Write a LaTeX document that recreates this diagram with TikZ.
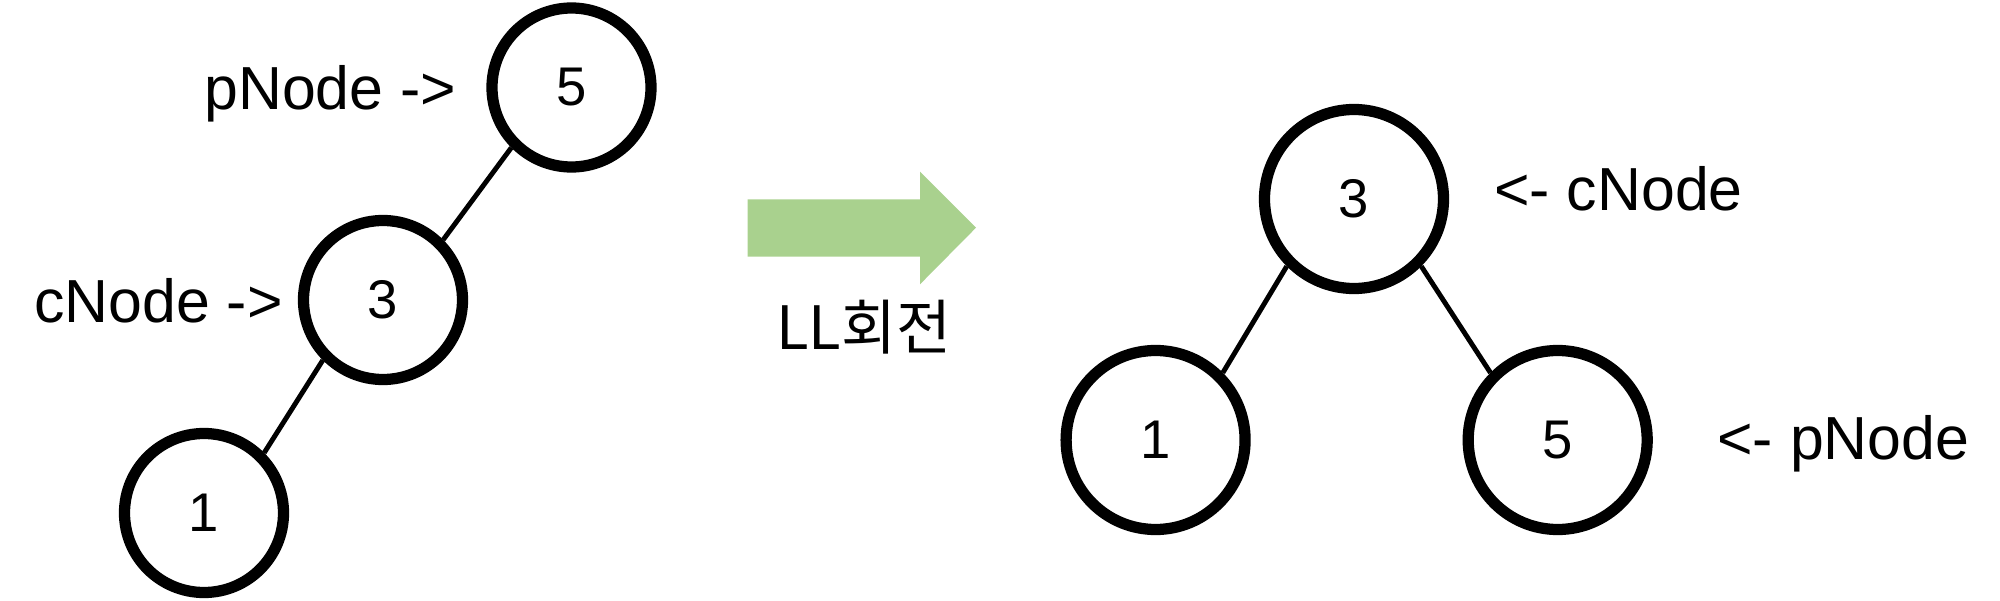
\documentclass[tikz,border=0pt]{standalone}
\usepackage{fontspec}
\setmainfont{Liberation Sans}
\newfontfamily\krfont{Noto Sans CJK KR}
\usepackage{tikz, xcolor}
\usetikzlibrary{shapes,arrows}
\definecolor{turngreen}{HTML}{A9D18E}

\begin{document}
\begin{tikzpicture}
\tikzstyle{vertexc}=[circle, draw=black, line width=3.2pt, inner sep=0pt, font=\fontsize{15.5}{18}\selectfont]
\tikzstyle{vertexl}=[vertexc, minimum size=1.59cm]
\tikzstyle{vertexb}=[vertexc, minimum size=1.79cm]
\tikzstyle{ptrstyle}=[inner sep=0pt, font=\fontsize{17.3}{20}\selectfont]
\tikzstyle{drawstyle}=[line width=1.4pt]
\useasboundingbox (0,0) rectangle (20,6);

% before
\node[vertexl] (L5) at (5.715,5.125) {5};
\node[vertexl] (L3) at (3.83,3.0) {3};
\node[vertexl] (L1) at (2.04,0.87) {1};
\draw[drawstyle] (L5.south west) -- (L3.north east);
\draw[drawstyle] (L3.south west) -- (L1.north east);
\node[ptrstyle, anchor=base east] (LP) at (4.57,4.904) {pNode ->};
\node[ptrstyle, anchor=base east] (LC) at (2.834,2.78) {cNode ->};

% rotation arrow
\fill[turngreen] (7.477,4.007) -- (9.2,4.007) -- (9.2,4.283) -- (9.76,3.723)
  -- (9.2,3.157) -- (9.2,3.433) -- (7.477,3.433) -- cycle;
\node[ptrstyle, anchor=base, font=\krfont\fontsize{17}{20}\selectfont] (LL) at (8.636,2.507) {LL회전};

% after
\node[vertexb] (R3) at (13.54,4.01) {3};
\node[vertexb] (R1) at (11.556,1.6) {1};
\node[vertexb] (R5) at (15.577,1.6) {5};
\draw[drawstyle] (R3.south west) -- (R1.north east);
\draw[drawstyle] (R3.south east) -- (R5.north west);
\node[ptrstyle, anchor=base west] (RC) at (14.936,3.89) {<- cNode};
\node[ptrstyle, anchor=base west] (RP) at (17.167,1.41) {<- pNode};
\end{tikzpicture}
\end{document}
